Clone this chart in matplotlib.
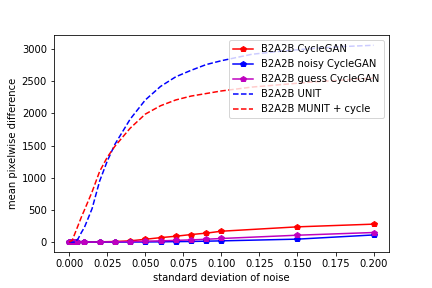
import numpy as np
import matplotlib.pyplot as plt

# noise levels for the CycleGAN runs
noise = [0.0, 0.001, 0.002, 0.003, 0.004, 0.005, 0.01, 0.02, 0.03, 0.04,
         0.05, 0.06, 0.07, 0.08, 0.09, 0.1, 0.15, 0.2]
cyclegan = [0, 0, 0, 0, 0, 0, 1, 5, 10, 20, 45, 70, 92, 118, 140, 170, 238, 280]
noisy_cyclegan = [0, 0, 0, 0, 0, 0, 0, 0, 1, 2, 3, 5, 8, 11, 15, 20, 47, 112]
guess_cyclegan = [0, 0, 0, 0, 0, 0, 0, 2, 5, 10, 15, 20, 28, 35, 45, 57, 108, 150]

# noise levels for UNIT / MUNIT
noise_dense = [0.0, 0.002, 0.004, 0.006, 0.008, 0.01, 0.015, 0.02, 0.025, 0.03,
               0.04, 0.05, 0.06, 0.07, 0.08, 0.09, 0.1, 0.12, 0.14, 0.16, 0.18, 0.2]
unit = [0, 0, 0, 60, 150, 230, 520, 950, 1260, 1520, 1910, 2210, 2420, 2570,
        2670, 2760, 2820, 2920, 2970, 3010, 3040, 3060]
munit = [0, 30, 150, 270, 390, 500, 780, 1100, 1320, 1490, 1770, 1990, 2120,
         2210, 2270, 2310, 2350, 2410, 2450, 2490, 2520, 2550]

fig = plt.figure(figsize=(6, 4), dpi=72)
plt.subplots_adjust(bottom=0.125, top=0.877)
plt.plot(noise, cyclegan, 'r-p', label='B2A2B CycleGAN')
plt.plot(noise, noisy_cyclegan, 'b-p', label='B2A2B noisy CycleGAN')
plt.plot(noise, guess_cyclegan, 'm-p', label='B2A2B guess CycleGAN')
plt.plot(noise_dense, unit, 'b--', label='B2A2B UNIT')
plt.plot(noise_dense, munit, 'r--', label='B2A2B MUNIT + cycle')
plt.xlabel("standard deviation of noise")
plt.ylabel("mean pixelwise difference")
plt.legend(loc='upper right')
plt.savefig("out.png", dpi=72)
